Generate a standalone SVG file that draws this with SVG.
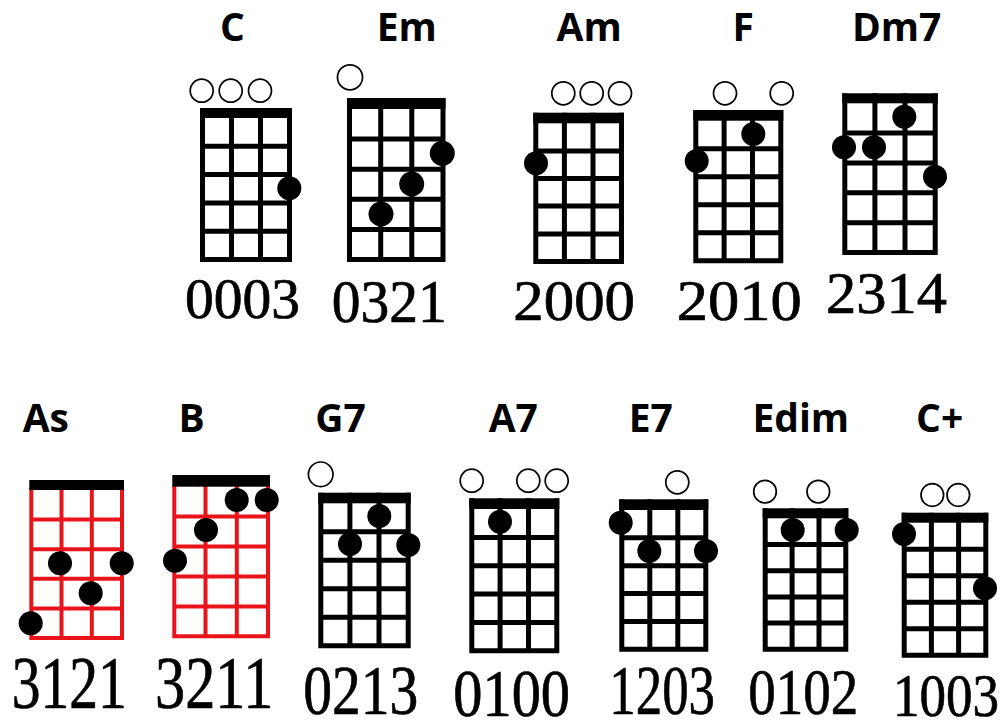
<svg xmlns="http://www.w3.org/2000/svg" width="1002" height="722" viewBox="0 0 1002 722">
<style>
.lbl{font-family:"Open Sans","Liberation Sans",sans-serif;font-weight:700;font-size:39px;fill:#000;text-anchor:middle}
.num{font-family:"Liberation Serif","Times New Roman",serif;fill:#000;stroke:#000;stroke-width:0.7}
.g{fill:none;stroke:#000;stroke-width:5}
.r{fill:none;stroke:#e8141a;stroke-width:4}
.nut{fill:#000}
.o{fill:#fff;stroke:#000;stroke-width:1.7}
.d{fill:#000}
</style>
<rect width="1002" height="722" fill="#fff"/>
<g id="chord-C">
<text class="lbl" x="232.5" y="40.7">C</text>
<rect class="nut" x="200" y="108" width="92" height="10"/>
<path class="g" d="M202.5 108V262M231.5 108V262M260.5 108V262M289.5 108V262M200 146.3H292M200 174.6H292M200 202.9H292M200 231.2H292M200 259.5H292"/>
<circle class="o" cx="201.7" cy="90.7" r="11.5"/><circle class="o" cx="230.7" cy="90.7" r="11.5"/><circle class="o" cx="260" cy="90.7" r="11.5"/>
<circle class="d" cx="289.3" cy="188.3" r="12"/>
<text class="num" x="185" y="318" font-size="56" textLength="115" lengthAdjust="spacingAndGlyphs">0003</text>
</g>
<g id="chord-Em">
<text class="lbl" x="406.7" y="40.7">Em</text>
<rect class="nut" x="347" y="98" width="98.5" height="11"/>
<path class="g" d="M349.5 98V262M380.7 98V262M411.8 98V262M443 98V262M347 139.1H445.5M347 169.2H445.5M347 199.3H445.5M347 229.4H445.5M347 259.5H445.5"/>
<circle class="o" cx="350" cy="77.3" r="12.5"/>
<circle class="d" cx="442.3" cy="153.3" r="12.5"/><circle class="d" cx="411.7" cy="184" r="12.5"/><circle class="d" cx="381" cy="214" r="12.5"/>
<text class="num" x="331.7" y="322" font-size="62" textLength="115" lengthAdjust="spacingAndGlyphs">0321</text>
</g>
<g id="chord-Am">
<text class="lbl" x="589.2" y="40.7">Am</text>
<rect class="nut" x="533.3" y="112.7" width="90.7" height="10.6"/>
<path class="g" d="M535.8 112.7V264M564.4 112.7V264M593 112.7V264M621.5 112.7V264M533.3 150.9H624M533.3 178.5H624M533.3 206.1H624M533.3 233.9H624M533.3 261.5H624"/>
<circle class="o" cx="563.3" cy="93.3" r="11.5"/><circle class="o" cx="591.7" cy="93.3" r="11.5"/><circle class="o" cx="620" cy="93.3" r="11.5"/>
<circle class="d" cx="536" cy="163.3" r="12"/>
<text class="num" x="513.3" y="320" font-size="57" textLength="121.7" lengthAdjust="spacingAndGlyphs">2000</text>
</g>
<g id="chord-F">
<text class="lbl" x="743.3" y="40.7">F</text>
<rect class="nut" x="693.3" y="110" width="90" height="10.7"/>
<path class="g" d="M695.8 110V263.3M724.1 110V263.3M752.5 110V263.3M780.8 110V263.3M693.3 148.7H783.3M693.3 176.7H783.3M693.3 204.7H783.3M693.3 232.8H783.3M693.3 260.8H783.3"/>
<circle class="o" cx="725" cy="93.3" r="11.5"/><circle class="o" cx="781.7" cy="93.3" r="11.5"/>
<circle class="d" cx="753.3" cy="134" r="12"/><circle class="d" cx="696.7" cy="161" r="12"/>
<text class="num" x="676.7" y="320" font-size="57" textLength="125" lengthAdjust="spacingAndGlyphs">2010</text>
</g>
<g id="chord-Dm7">
<text class="lbl" x="896.7" y="40.7">Dm7</text>
<rect class="nut" x="842.3" y="93.3" width="95.4" height="10"/>
<path class="g" d="M844.8 93.3V255M874.9 93.3V255M905 93.3V255M935.2 93.3V255M842.3 133.1H937.7M842.3 163H937.7M842.3 192.8H937.7M842.3 222.7H937.7M842.3 252.5H937.7"/>
<circle class="d" cx="904.3" cy="116.7" r="12"/><circle class="d" cx="844" cy="147.3" r="12"/><circle class="d" cx="874" cy="147.3" r="12"/><circle class="d" cx="935" cy="176.7" r="12"/>
<text class="num" x="826" y="313" font-size="59" textLength="121" lengthAdjust="spacingAndGlyphs">2314</text>
</g>
<g id="chord-As">
<text class="lbl" x="45.8" y="431.7">As</text>
<path class="r" d="M31.3 488V640M61.5 488V640M91.8 488V640M122 488V640M29.3 519.6H124M29.3 549.2H124M29.3 578.8H124M29.3 608.4H124M29.3 638H124"/>
<rect class="nut" x="29.3" y="480" width="94.7" height="10"/>
<circle class="d" cx="60" cy="563.3" r="12"/><circle class="d" cx="121.7" cy="563.3" r="12"/><circle class="d" cx="90.7" cy="593.3" r="12"/><circle class="d" cx="30.7" cy="623.3" r="12"/>
<text class="num" x="11.7" y="708" font-size="73" textLength="115" lengthAdjust="spacingAndGlyphs">3121</text>
</g>
<g id="chord-B">
<text class="lbl" x="191.7" y="431.7">B</text>
<path class="r" d="M174.3 485V638.3M205.5 485V638.3M236.8 485V638.3M268 485V638.3M172.3 516.6H270M172.3 546.5H270M172.3 576.4H270M172.3 606.4H270M172.3 636.3H270"/>
<rect class="nut" x="172.3" y="475" width="97.7" height="11.7"/>
<circle class="d" cx="236.7" cy="500" r="12"/><circle class="d" cx="266.7" cy="500" r="12"/><circle class="d" cx="206" cy="530" r="12"/><circle class="d" cx="175" cy="560.7" r="12"/>
<text class="num" x="155" y="708" font-size="73" textLength="118.3" lengthAdjust="spacingAndGlyphs">3211</text>
</g>
<g id="chord-G7">
<text class="lbl" x="340.5" y="431.7">G7</text>
<rect class="nut" x="318.3" y="492.7" width="92.4" height="10.6"/>
<path class="g" d="M320.8 492.7V648.3M349.9 492.7V648.3M379 492.7V648.3M408.2 492.7V648.3M318.3 531.8H410.7M318.3 560.3H410.7M318.3 588.8H410.7M318.3 617.3H410.7M318.3 645.8H410.7"/>
<circle class="o" cx="320.7" cy="474.3" r="12.3"/>
<circle class="d" cx="379.3" cy="516" r="12"/><circle class="d" cx="350" cy="544" r="12"/><circle class="d" cx="408.3" cy="545" r="12"/>
<text class="num" x="303.3" y="714" font-size="69" textLength="115" lengthAdjust="spacingAndGlyphs">0213</text>
</g>
<g id="chord-A7">
<text class="lbl" x="513.3" y="431.7">A7</text>
<rect class="nut" x="469.3" y="498.3" width="90" height="10.7"/>
<path class="g" d="M471.8 498.3V653.3M500.1 498.3V653.3M528.5 498.3V653.3M556.8 498.3V653.3M469.3 537.4H559.3M469.3 565.7H559.3M469.3 594.1H559.3M469.3 622.4H559.3M469.3 650.8H559.3"/>
<circle class="o" cx="471.7" cy="480.7" r="11.5"/><circle class="o" cx="528.3" cy="480.7" r="11.5"/><circle class="o" cx="556.7" cy="480.7" r="11.5"/>
<circle class="d" cx="500" cy="521.7" r="12"/>
<text class="num" x="453.3" y="715.5" font-size="67" textLength="116.7" lengthAdjust="spacingAndGlyphs">0100</text>
</g>
<g id="chord-E7">
<text class="lbl" x="650.8" y="431.7">E7</text>
<rect class="nut" x="619.3" y="499.3" width="89" height="10.7"/>
<path class="g" d="M621.8 499.3V651.7M649.8 499.3V651.7M677.8 499.3V651.7M705.8 499.3V651.7M619.3 537.8H708.3M619.3 565.7H708.3M619.3 593.5H708.3M619.3 621.4H708.3M619.3 649.2H708.3"/>
<circle class="o" cx="677.3" cy="482.3" r="11.5"/>
<circle class="d" cx="620.7" cy="522.7" r="12"/><circle class="d" cx="649.3" cy="551" r="12"/><circle class="d" cx="706" cy="551" r="12"/>
<text class="num" x="609.3" y="714" font-size="69" textLength="105.7" lengthAdjust="spacingAndGlyphs">1203</text>
</g>
<g id="chord-Edim">
<text class="lbl" x="800.8" y="431.7">Edim</text>
<rect class="nut" x="762.7" y="508.3" width="85.6" height="10"/>
<path class="g" d="M765.2 508.3V651.7M792.1 508.3V651.7M819 508.3V651.7M845.8 508.3V651.7M762.7 544.5H848.3M762.7 570.7H848.3M762.7 596.9H848.3M762.7 623H848.3M762.7 649.2H848.3"/>
<circle class="o" cx="765" cy="491.7" r="11.3"/><circle class="o" cx="818.3" cy="491.7" r="11.3"/>
<circle class="d" cx="792.7" cy="530" r="12"/><circle class="d" cx="846.7" cy="530" r="12"/>
<text class="num" x="748.3" y="714" font-size="66" textLength="110" lengthAdjust="spacingAndGlyphs">0102</text>
</g>
<g id="chord-Cplus">
<text class="lbl" x="939.7" y="431.7">C+</text>
<rect class="nut" x="901.7" y="512.7" width="86.6" height="10"/>
<path class="g" d="M904.2 512.7V657.7M931.4 512.7V657.7M958.6 512.7V657.7M985.8 512.7V657.7M901.7 549.2H988.3M901.7 575.7H988.3M901.7 602.2H988.3M901.7 628.7H988.3M901.7 655.2H988.3"/>
<circle class="o" cx="932.3" cy="495" r="11.3"/><circle class="o" cx="958.3" cy="495" r="11.3"/>
<circle class="d" cx="904" cy="534" r="12"/><circle class="d" cx="985" cy="588.3" r="12"/>
<text class="num" x="893" y="716" font-size="61" textLength="106" lengthAdjust="spacingAndGlyphs">1003</text>
</g>
<g id="connectors"></g>
</svg>
